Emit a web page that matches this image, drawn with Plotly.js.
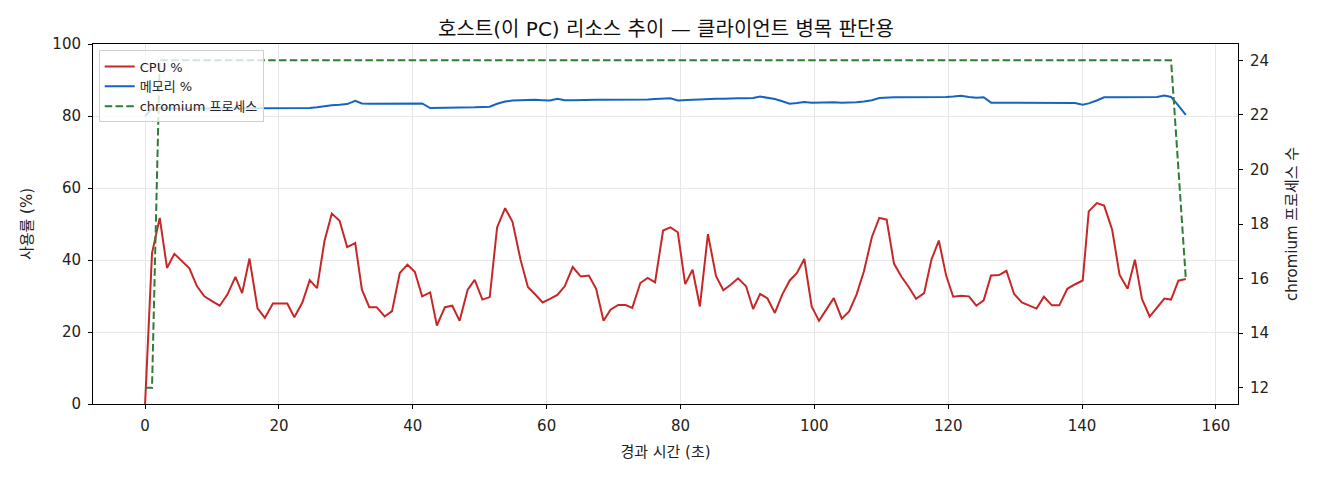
<!DOCTYPE html>
<html><head><meta charset="utf-8">
<script src="https://cdn.plot.ly/plotly-3.0.1.min.js"></script>
<style>html,body{margin:0;padding:0;background:#fff}#c{width:1320px;height:480px}</style>
</head><body><div id="c"></div>
<script>
const timeSec = [0,1.04,2.19,3.28,4.38,5.52,6.62,7.76,8.86,10.0,11.15,12.3,13.5,14.5,15.6,16.8,17.9,19.1,20.15,21.25,
22.3,23.5,24.6,25.7,26.8,27.9,29.06,30.2,31.4,32.4,33.5,34.6,35.8,36.9,38.06,39.2,40.3,41.4,42.6,43.6,
44.8,45.9,47.0,48.2,49.25,50.4,51.5,52.6,53.8,54.9,56.1,57.2,58.3,59.4,60.5,61.6,62.7,63.9,65.1,66.3,
67.4,68.5,69.55,70.7,71.8,72.8,74.0,75.1,76.2,77.4,78.5,79.6,80.7,81.8,82.9,84.1,85.3,86.4,87.5,88.6,
89.8,90.85,91.9,93.0,94.1,95.2,96.3,97.4,98.5,99.6,100.7,101.85,102.9,104.1,105.2,106.3,107.4,108.6,109.7,110.8,
111.9,113.0,114.1,115.2,116.4,117.5,118.6,119.7,120.75,121.9,123.1,124.2,125.3,126.4,127.6,128.7,129.85,131.0,132.05,133.2,
134.3,135.5,136.6,137.8,138.9,140.1,141.0,142.2,143.3,144.5,145.6,146.8,147.9,148.95,150.1,151.2,152.3,153.3,154.4,155.5];

const cpuPct = [0,41.9,51.7,37.8,41.7,39.7,37.7,32.7,29.9,28.6,27.3,30.4,35.3,30.8,40.4,26.6,23.9,27.9,27.9,27.9,
24.1,28.2,34.4,32.2,45.2,52.9,50.9,43.6,44.7,31.75,26.9,26.9,24.3,25.8,36.4,38.7,36.75,29.9,31.0,21.8,
26.9,27.3,23.1,31.75,34.5,29.0,29.7,49.05,54.4,50.6,40.1,32.5,30.4,28.2,29.2,30.3,32.7,38.05,35.4,35.7,
32.0,23.1,26.2,27.5,27.5,26.7,33.6,35.0,33.8,48.2,49.05,47.7,33.3,37.3,27.1,47.2,35.6,31.6,33.1,34.9,
32.7,26.4,30.6,29.3,25.3,30.4,34.25,36.4,40.3,27.1,23.1,26.4,29.4,23.7,25.7,30.4,36.8,46.4,51.7,51.2,
39.0,35.4,32.5,29.2,30.8,40.1,45.4,35.6,29.8,30.1,29.9,27.3,28.8,35.7,35.8,37.0,30.55,28.2,27.3,26.5,
29.8,27.4,27.4,32.0,33.2,34.3,53.5,55.8,55.1,48.4,35.9,32.0,40.1,29.2,24.3,26.7,29.3,29.0,34.25,34.7];

const memPct = [80.0,82.0,82.2,82.1,82.1,82.0,82.1,82.1,82.0,82.1,82.1,82.1,82.2,82.1,82.1,82.1,82.0,82.1,82.0,82.0,
82.0,82.1,82.2,82.4,82.7,83.0,83.1,83.3,84.2,83.5,83.4,83.4,83.4,83.3,83.3,83.4,83.5,83.5,82.2,82.2,
82.2,82.2,82.2,82.3,82.4,82.5,82.6,83.4,84.0,84.3,84.4,84.4,84.5,84.4,84.3,84.8,84.4,84.4,84.5,84.5,
84.5,84.5,84.5,84.5,84.4,84.5,84.6,84.6,84.7,84.8,84.9,84.3,84.5,84.5,84.6,84.8,84.8,84.8,84.9,84.9,
84.9,85.0,85.4,85.1,84.7,84.1,83.4,83.6,83.9,83.7,83.8,83.8,83.8,83.7,83.7,83.8,84.0,84.4,85.0,85.2,
85.2,85.2,85.2,85.1,85.2,85.3,85.3,85.3,85.4,85.6,85.3,85.1,85.2,83.7,83.7,83.7,83.8,83.8,83.8,83.7,
83.7,83.6,83.6,83.7,83.6,83.1,83.5,84.3,85.2,85.2,85.2,85.3,85.3,85.2,85.2,85.3,85.7,85.3,82.9,80.3];

const chromiumProcs = [12,12,24,24,24,24,24,24,24,24,24,24,24,24,24,24,24,24,24,24,
24,24,24,24,24,24,24,24,24,24,24,24,24,24,24,24,24,24,24,24,
24,24,24,24,24,24,24,24,24,24,24,24,24,24,24,24,24,24,24,24,
24,24,24,24,24,24,24,24,24,24,24,24,24,24,24,24,24,24,24,24,
24,24,24,24,24,24,24,24,24,24,24,24,24,24,24,24,24,24,24,24,
24,24,24,24,24,24,24,24,24,24,24,24,24,24,24,24,24,24,24,24,
24,24,24,24,24,24,24,24,24,24,24,24,24,24,24,24,24,24,20,16];

const xTicks = [0,20,40,60,80,100,120,140,160];
const yTicks = [0,20,40,60,80,100];
const y2Ticks = [12,14,16,18,20,22,24];
const seriesNames = ['CPU %','메모리 %','chromium 프로세스'];

const FONT = '"DejaVu Sans", "Noto Sans CJK KR", sans-serif';
const TICKFONT = {family: '"DejaVu Sans", sans-serif', size: 15, color: '#222'};

const traces = [
  {x: timeSec, y: cpuPct, name: seriesNames[0], type: 'scatter', mode: 'lines',
   line: {color: '#c62828', width: 2}, yaxis: 'y'},
  {x: timeSec, y: memPct, name: seriesNames[1], type: 'scatter', mode: 'lines',
   line: {color: '#1565c0', width: 2}, yaxis: 'y'},
  {x: timeSec, y: chromiumProcs, name: seriesNames[2], type: 'scatter', mode: 'lines',
   line: {color: '#2e7d32', width: 2, dash: '7.5px,3.3px'}, yaxis: 'y2'}
];

const layout = {
  width: 1320, height: 480,
  margin: {l: 93, r: 82, t: 44, b: 76},
  paper_bgcolor: '#fff', plot_bgcolor: '#fff',
  font: {family: FONT, size: 14, color: '#222'},
  title: {text: '호스트(이 PC) 리소스 추이 — 클라이언트 병목 판단용', x: 0.5045, xanchor: 'center', y: 0.94, yanchor: 'middle',
          font: {family: FONT, size: 20, color: '#111'}},
  xaxis: {range: [-7.78, 163.3], tickvals: xTicks, ticks: 'outside', ticklen: 4, tickcolor: '#000',
          ticklabelstandoff: 4,
          showline: true, linecolor: '#000', linewidth: 1, mirror: true,
          showgrid: true, gridcolor: '#e6e6e6', zeroline: false,
          tickfont: TICKFONT,
          title: {text: '경과 시간 (초)', standoff: 12, font: {size: 15, color: '#222'}}},
  yaxis: {range: [0, 100], tickvals: yTicks, ticks: 'outside', ticklen: 4, tickcolor: '#000',
          ticklabelstandoff: 4,
          showline: true, linecolor: '#000', linewidth: 1, mirror: true,
          showgrid: true, gridcolor: '#e6e6e6', zeroline: false,
          tickfont: TICKFONT,
          title: {text: '사용률 (%)', standoff: 16, font: {size: 15, color: '#222'}}},
  yaxis2: {range: [11.4, 24.6], tickvals: y2Ticks, overlaying: 'y', side: 'right',
           ticks: 'outside', ticklen: 4, tickcolor: '#000',
           ticklabelstandoff: 4,
           showline: true, linecolor: '#000', linewidth: 1,
           showgrid: false, zeroline: false,
           tickfont: TICKFONT,
           title: {text: 'chromium 프로세스 수', standoff: 18, font: {size: 15, color: '#222'}}},
  legend: {x: 0.005, y: 0.982, xanchor: 'left', yanchor: 'top',
           bgcolor: 'rgba(255,255,255,0.8)', bordercolor: '#d0d0d0', borderwidth: 1,
           font: {size: 13, color: '#222'}, tracegroupgap: 0, itemwidth: 30},
  showlegend: true
};

Plotly.newPlot('c', traces, layout, {displayModeBar: false, staticPlot: true});
</script>
</body></html>
